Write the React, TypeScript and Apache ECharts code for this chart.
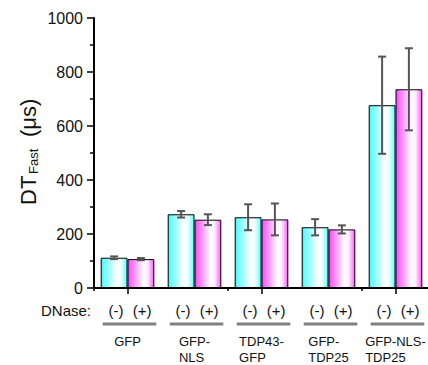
import { useEffect, useRef } from 'react';
import * as echarts from 'echarts';

// Constructs (x categories), two lines where the name wraps
const groups = ['GFP', 'GFP-\nNLS', 'TDP43-\nGFP', 'GFP-\nTDP25', 'GFP-NLS-\nTDP25'];
// DT Fast (µs) without / with DNase, and their error half-widths
const dnaseMinus = [112, 273, 262, 225, 677];
const dnaseMinusErr = [5, 12, 48, 30, 180];
const dnasePlus = [107, 253, 254, 217, 736];
const dnasePlusErr = [4, 20, 59, 15, 152];
const treatmentLabels = ['(-)', '(+)'];

const FONT = 'Arial, Liberation Sans, Helvetica, sans-serif';

const measure = (() => {
  const ctx = document.createElement('canvas').getContext('2d');
  return (s: string, size: number) => {
    if (!ctx) return s.length * size * 0.6;
    ctx.font = `${size}px ${FONT}`;
    return ctx.measureText(s).width;
  };
})();

const cyanFill = new echarts.graphic.LinearGradient(0, 0, 1, 0, [
  { offset: 0, color: '#30e4e4' },
  { offset: 0.07, color: '#5cffff' },
  { offset: 0.6, color: '#ffffff' },
  { offset: 0.76, color: '#eeffff' },
  { offset: 1, color: '#5cffff' },
]);
const magentaFill = new echarts.graphic.LinearGradient(0, 0, 1, 0, [
  { offset: 0, color: '#f040f0' },
  { offset: 0.07, color: '#ff5cff' },
  { offset: 0.6, color: '#ffffff' },
  { offset: 0.76, color: '#ffeeff' },
  { offset: 1, color: '#ff5cff' },
]);

function errorSeries(vals: number[], errs: number[], side: number) {
  return {
    type: 'custom',
    xAxisIndex: 0,
    yAxisIndex: 0,
    silent: true,
    z: 5,
    data: vals.map((v, i) => [i, v - errs[i], v + errs[i]]),
    encode: { x: 0, y: [1, 2] },
    renderItem: (_params: any, api: any) => {
      const i = api.value(0);
      const lo = api.coord([i, api.value(1)]);
      const hi = api.coord([i, api.value(2)]);
      const band = api.size([1, 0])[0];
      const x = lo[0] + side * band * 0.2;
      const cap = 4;
      const style = { stroke: '#555555', lineWidth: 2, fill: 'none' };
      return {
        type: 'group',
        children: [
          { type: 'line', shape: { x1: x, y1: hi[1], x2: x, y2: lo[1] }, style },
          { type: 'line', shape: { x1: x - cap, y1: hi[1], x2: x + cap, y2: hi[1] }, style },
          { type: 'line', shape: { x1: x - cap, y1: lo[1], x2: x + cap, y2: lo[1] }, style },
        ],
      };
    },
  };
}

export default function App() {
  const ref = useRef<HTMLDivElement>(null);

  useEffect(() => {
    if (!ref.current) return;
    const chart = echarts.init(ref.current, undefined, { renderer: 'svg' });

    chart.setOption({
      animation: false,
      backgroundColor: '#ffffff',
      grid: { left: 94, top: 18, width: 335, height: 270, containLabel: false, outerBoundsMode: 'none' },
      xAxis: [
        {
          type: 'category',
          data: groups,
          position: 'bottom',
          axisLine: { show: true, lineStyle: { color: '#000', width: 2 } },
          axisTick: { show: true, alignWithLabel: true, length: 6, lineStyle: { color: '#000', width: 1.5 } },
          axisLabel: { show: false },
          splitLine: { show: false },
        },
        {
          type: 'category',
          data: groups,
          position: 'bottom',
          axisLine: { show: false },
          axisTick: { show: true, length: 3, lineStyle: { color: '#000', width: 1.5 } },
          axisLabel: { show: false },
          splitLine: { show: false },
        },
      ],
      yAxis: {
        type: 'value',
        min: 0,
        max: 1000,
        interval: 200,
        axisLine: { show: true, lineStyle: { color: '#000', width: 2 } },
        axisTick: { show: true, length: 7, lineStyle: { color: '#000', width: 1.5 } },
        minorTick: { show: true, splitNumber: 2, length: 4, lineStyle: { color: '#000', width: 1.5 } },
        splitLine: { show: false },
        axisLabel: {
          color: '#111',
          fontSize: 16,
          fontFamily: FONT,
          margin: 11,
          formatter: (v: number) => String(v),
        },
      },
      series: [
        {
          type: 'bar',
          name: treatmentLabels[0],
          data: dnaseMinus,
          barGap: '0%',
          barCategoryGap: '20%',
          itemStyle: { color: cyanFill, borderColor: '#000', borderWidth: 1 },
        },
        {
          type: 'bar',
          name: treatmentLabels[1],
          data: dnasePlus,
          barGap: '0%',
          barCategoryGap: '20%',
          itemStyle: { color: magentaFill, borderColor: '#000', borderWidth: 1 },
        },
        errorSeries(dnaseMinus, dnaseMinusErr, -1),
        errorSeries(dnasePlus, dnasePlusErr, 1),
      ],
    });

    // Treatment row, underlines and construct names below the axis
    const c0 = chart.convertToPixel({ xAxisIndex: 0 }, 0) as number;
    const c1 = chart.convertToPixel({ xAxisIndex: 0 }, 1) as number;
    const band = c1 - c0;
    const textStyle = { fill: '#111', fontFamily: FONT };
    const below: any[] = [
      {
        type: 'text',
        x: 91,
        y: 310,
        style: { ...textStyle, text: 'DNase:', fontSize: 15, align: 'right', verticalAlign: 'middle' },
      },
    ];
    groups.forEach((name, i) => {
      const c = chart.convertToPixel({ xAxisIndex: 0 }, i) as number;
      below.push(
        {
          type: 'text',
          x: c - 0.17 * band,
          y: 310,
          style: { ...textStyle, text: treatmentLabels[0], fontSize: 15, align: 'center', verticalAlign: 'middle' },
        },
        {
          type: 'text',
          x: c + 0.22 * band,
          y: 310,
          style: { ...textStyle, text: treatmentLabels[1], fontSize: 15, align: 'center', verticalAlign: 'middle' },
        },
        {
          type: 'rect',
          shape: { x: c - 0.37 * band, y: 322.5, width: 0.8 * band, height: 3 },
          style: { fill: '#808080' },
        }
      );
      const lines = name.split('\n');
      const w = Math.max(...lines.map((l) => measure(l, 13)));
      below.push({
        type: 'text',
        x: c - w / 2,
        y: 333,
        style: { ...textStyle, text: name, fontSize: 13, lineHeight: 16, align: 'left', verticalAlign: 'top' },
      });
    });

    // Rotated y-axis title: DT with subscript "Fast", then (µs)
    const title = {
      type: 'group',
      x: 0,
      y: 205,
      rotation: Math.PI / 2,
      children: [
        { type: 'text', x: 0, y: 28, style: { ...textStyle, text: 'DT', fontSize: 22, align: 'left', verticalAlign: 'middle' } },
        { type: 'text', x: 31, y: 33, style: { ...textStyle, text: 'Fast', fontSize: 13, align: 'left', verticalAlign: 'middle' } },
        { type: 'text', x: 68, y: 28, style: { ...textStyle, text: '(μs)', fontSize: 22, align: 'left', verticalAlign: 'middle' } },
      ],
    };

    chart.setOption({ graphic: [title, ...below] });

    return () => chart.dispose();
  }, []);

  return (
    <div
      ref={ref}
      style={{ position: 'fixed', left: 0, top: 0, width: 428, height: 365, background: '#fff' }}
    />
  );
}
